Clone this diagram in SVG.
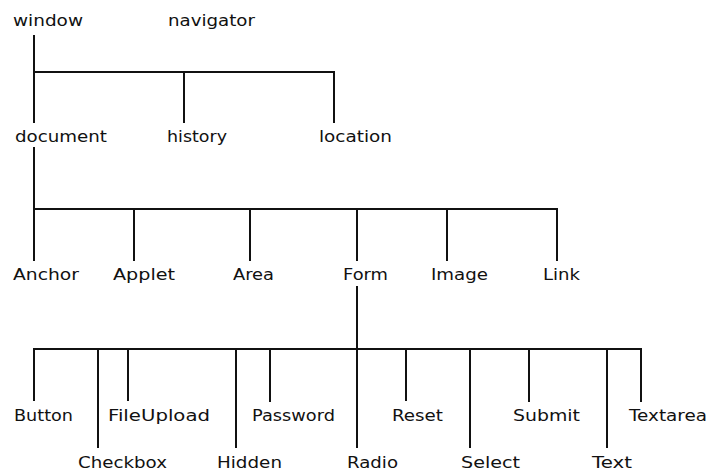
<svg xmlns="http://www.w3.org/2000/svg" width="710" height="471" viewBox="0 0 710 471">
<style>
text{font-family:"DejaVu Sans","Liberation Sans",sans-serif;font-size:15px;fill:#111}
.c line{stroke:#111;stroke-width:2;stroke-linecap:square}
</style>
<rect width="710" height="471" fill="#fff"/>
<g class="c" id="connectors">
<line x1="34" y1="36" x2="34" y2="122"/>
<line x1="34" y1="72" x2="334" y2="72"/>
<line x1="184" y1="72" x2="184" y2="122"/>
<line x1="334" y1="72" x2="334" y2="122"/>
<line x1="34" y1="148" x2="34" y2="260"/>
<line x1="34" y1="209" x2="557" y2="209"/>
<line x1="134" y1="209" x2="134" y2="260"/>
<line x1="250" y1="209" x2="250" y2="260"/>
<line x1="357" y1="209" x2="357" y2="260"/>
<line x1="447" y1="209" x2="447" y2="260"/>
<line x1="557" y1="209" x2="557" y2="260"/>
<line x1="357" y1="287" x2="357" y2="447"/>
<line x1="34" y1="349" x2="641" y2="349"/>
<line x1="34" y1="349" x2="34" y2="400"/>
<line x1="98" y1="349" x2="98" y2="447"/>
<line x1="128" y1="349" x2="128" y2="400"/>
<line x1="236" y1="349" x2="236" y2="447"/>
<line x1="270" y1="349" x2="270" y2="401"/>
<line x1="406" y1="349" x2="406" y2="400"/>
<line x1="470" y1="349" x2="470" y2="447"/>
<line x1="529" y1="349" x2="529" y2="401"/>
<line x1="607" y1="349" x2="607" y2="447"/>
<line x1="641" y1="349" x2="641" y2="401"/>
</g>
<g id="window"><text x="13" y="26" textLength="70" lengthAdjust="spacingAndGlyphs">window</text></g>
<g id="navigator"><text x="168" y="26" textLength="87" lengthAdjust="spacingAndGlyphs">navigator</text></g>
<g id="document"><text x="15" y="142" textLength="92" lengthAdjust="spacingAndGlyphs">document</text></g>
<g id="history"><text x="167" y="142" textLength="60" lengthAdjust="spacingAndGlyphs">history</text></g>
<g id="location"><text x="319" y="142" textLength="73" lengthAdjust="spacingAndGlyphs">location</text></g>
<g id="Anchor"><text x="13" y="280" textLength="66" lengthAdjust="spacingAndGlyphs">Anchor</text></g>
<g id="Applet"><text x="113" y="280" textLength="62" lengthAdjust="spacingAndGlyphs">Applet</text></g>
<g id="Area"><text x="233" y="280" textLength="41" lengthAdjust="spacingAndGlyphs">Area</text></g>
<g id="Form"><text x="343" y="280" textLength="45" lengthAdjust="spacingAndGlyphs">Form</text></g>
<g id="Image"><text x="431" y="280" textLength="57" lengthAdjust="spacingAndGlyphs">Image</text></g>
<g id="Link"><text x="543" y="280" textLength="37" lengthAdjust="spacingAndGlyphs">Link</text></g>
<g id="Button"><text x="14" y="421" textLength="59" lengthAdjust="spacingAndGlyphs">Button</text></g>
<g id="FileUpload"><text x="108" y="421" textLength="102" lengthAdjust="spacingAndGlyphs">FileUpload</text></g>
<g id="Password"><text x="252" y="421" textLength="83" lengthAdjust="spacingAndGlyphs">Password</text></g>
<g id="Reset"><text x="392" y="421" textLength="51" lengthAdjust="spacingAndGlyphs">Reset</text></g>
<g id="Submit"><text x="513" y="421" textLength="67" lengthAdjust="spacingAndGlyphs">Submit</text></g>
<g id="Textarea"><text x="629" y="421" textLength="78" lengthAdjust="spacingAndGlyphs">Textarea</text></g>
<g id="Checkbox"><text x="78" y="468" textLength="89" lengthAdjust="spacingAndGlyphs">Checkbox</text></g>
<g id="Hidden"><text x="217" y="468" textLength="65" lengthAdjust="spacingAndGlyphs">Hidden</text></g>
<g id="Radio"><text x="347" y="468" textLength="51" lengthAdjust="spacingAndGlyphs">Radio</text></g>
<g id="Select"><text x="461" y="468" textLength="59" lengthAdjust="spacingAndGlyphs">Select</text></g>
<g id="Text"><text x="592" y="468" textLength="40" lengthAdjust="spacingAndGlyphs">Text</text></g>
</svg>
